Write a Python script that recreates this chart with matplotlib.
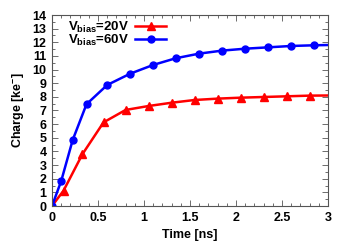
import matplotlib
matplotlib.use("Agg")
import matplotlib.pyplot as plt
from matplotlib.ticker import MultipleLocator

t20 = [0.0, 0.125, 0.33, 0.56, 0.80, 1.05, 1.30, 1.55, 1.80, 2.05, 2.30, 2.55, 2.80, 3.0]
q20 = [0.0, 1.12, 3.79, 6.13, 7.04, 7.33, 7.57, 7.77, 7.87, 7.94, 7.99, 8.04, 8.09, 8.10]
t60 = [0.0, 0.10, 0.225, 0.375, 0.60, 0.85, 1.10, 1.345, 1.60, 1.85, 2.10, 2.35, 2.60, 2.85, 3.0]
q60 = [0.0, 1.83, 4.84, 7.46, 8.87, 9.70, 10.34, 10.83, 11.17, 11.39, 11.53, 11.63, 11.73, 11.78, 11.80]
labels = [r"V$_{\mathbf{bias}}$=20V", r"V$_{\mathbf{bias}}$=60V"]

plt.rcParams['font.family'] = ['Liberation Sans', 'DejaVu Sans']
plt.rcParams['mathtext.fontset'] = 'custom'
plt.rcParams['mathtext.bf'] = 'Liberation Sans:bold'
plt.rcParams['mathtext.rm'] = 'Liberation Sans:bold'
plt.rcParams['mathtext.default'] = 'bf'

fig = plt.figure(figsize=(3.5, 2.45), dpi=100)
ax = fig.add_axes([52/350, 1-206/245, 276/350, 191/245])

n20 = len(t20) - 1
n60 = len(t60) - 1
ax.plot(t20, q20, color='#ff0000', lw=1.8, marker='^', ms=6, markevery=list(range(n20)), label=labels[0])
ax.plot(t60, q60, color='#0000ff', lw=1.8, marker='o', ms=5, markevery=list(range(n60)), label=labels[1])

ax.set_xlim(0, 3)
ax.set_ylim(0, 14)
ax.xaxis.set_major_locator(MultipleLocator(0.5))
ax.xaxis.set_minor_locator(MultipleLocator(0.1))
ax.yaxis.set_major_locator(MultipleLocator(1))
ax.yaxis.set_minor_locator(MultipleLocator(0.5))
ax.set_xticks([0, 0.5, 1, 1.5, 2, 2.5, 3])
ax.set_xticklabels(['0', '0.5', '1', '1.5', '2', '2.5', '3'])
ax.tick_params(which='both', direction='in', top=True, right=True, color='#555555')
ax.tick_params(which='major', length=4, width=0.6, labelsize=9, pad=4)
ax.tick_params(which='minor', length=2, width=0.6)
for lab in ax.get_xticklabels() + ax.get_yticklabels():
    lab.set_fontweight('bold')
for s in ax.spines.values():
    s.set_color('#555555')
    s.set_linewidth(0.8)

ax.set_xlabel('Time [ns]', fontsize=9, fontweight='bold', labelpad=4)
ax.set_ylabel(r'Charge [ke$^{-}$]', fontsize=9, fontweight='bold', labelpad=4)

leg = ax.legend(loc='upper left', bbox_to_anchor=(0.05, 0.99), frameon=False,
                handlelength=2.4, fontsize=9.5, markerfirst=False, borderaxespad=0.0,
                borderpad=0.2, handletextpad=0.4, labelspacing=-0.12)
for txt in leg.get_texts():
    txt.set_fontweight('bold')

fig.savefig('out.png', dpi=100)
